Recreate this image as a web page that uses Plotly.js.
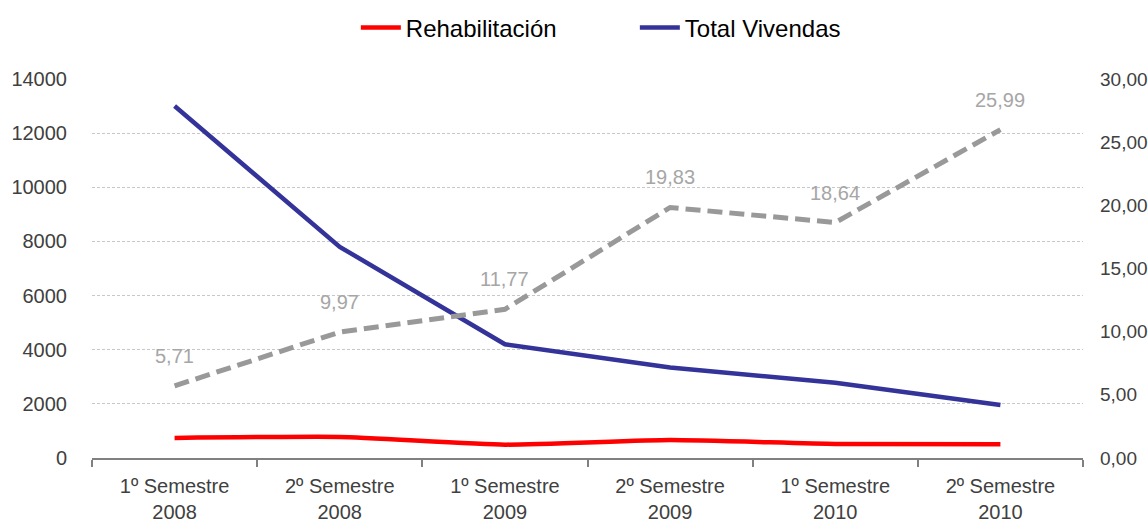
<!DOCTYPE html>
<html>
<head>
<meta charset="utf-8">
<script src="https://cdn.plot.ly/plotly-3.0.1.min.js"></script>
<style>html,body{margin:0;padding:0;background:#fff;}#chart{width:1148px;height:525px;}</style>
</head>
<body>
<div id="chart"></div>
<script>
const categories = ["1º Semestre<br>2008", "2º Semestre<br>2008", "1º Semestre<br>2009", "2º Semestre<br>2009", "1º Semestre<br>2010", "2º Semestre<br>2010"];
const rehabilitacion = [742, 778, 494, 662, 518, 509];
const totalVivendas = [13000, 7800, 4200, 3340, 2780, 1960];
const porcentaxe = [5.71, 9.97, 11.77, 19.83, 18.64, 25.99];
const porcentaxeLabels = ["5,71", "9,97", "11,77", "19,83", "18,64", "25,99"];
const leftTicks = [0, 2000, 4000, 6000, 8000, 10000, 12000, 14000];
const rightTicks = [0, 5, 10, 15, 20, 25, 30];
const rightTickLabels = ["0,00", "5,00", "10,00", "15,00", "20,00", "25,00", "30,00"];

const fontFam = "'Liberation Sans', Arial, sans-serif";

const traces = [
  {x: categories, y: rehabilitacion, name: "Rehabilitación", type: "scatter", mode: "lines",
   line: {color: "#ff0000", width: 4.5, shape: "spline", smoothing: 0.5}},
  {x: categories, y: totalVivendas, name: "Total Vivendas", type: "scatter", mode: "lines",
   line: {color: "#333399", width: 4.5}},
  {x: categories, y: porcentaxe, name: "%", type: "scatter", mode: "lines", yaxis: "y2",
   showlegend: false, line: {color: "#999999", width: 5, dash: "15px,7px"}}
];

const annotations = categories.map((c, i) => ({
  x: c, y: porcentaxe[i], xref: "x", yref: "y2", text: porcentaxeLabels[i],
  showarrow: false, yshift: 30, font: {family: fontFam, size: 20, color: "#a6a6a6"}
}));

const layout = {
  width: 1148, height: 525,
  margin: {l: 92, r: 65, t: 79, b: 67, autoexpand: false},
  paper_bgcolor: "#ffffff", plot_bgcolor: "#ffffff",
  font: {family: fontFam, size: 20, color: "#404040"},
  showlegend: true,
  legend: {orientation: "h", x: 0.553, xref: "container", xanchor: "center",
           y: 0.947, yref: "container", yanchor: "middle",
           font: {family: fontFam, size: 24, color: "#000000"}, itemwidth: 40,
           entrywidth: 224, entrywidthmode: "pixels"},
  xaxis: {type: "category", range: [-0.5, 5.5], showline: true, linecolor: "#808080", linewidth: 2,
          ticks: "outside", tickson: "boundaries", ticklen: 7, tickcolor: "#808080", tickwidth: 2,
          showgrid: false, zeroline: false, ticklabelstandoff: 9,
          tickfont: {family: fontFam, size: 20, color: "#404040"}},
  yaxis: {range: [0, 14000], tickvals: leftTicks, ticktext: leftTicks.map(String),
          showline: false, zeroline: false, showgrid: true, gridcolor: "#c8c8c8", gridwidth: 1, griddash: "3px,2px",
          ticks: "", ticklabelstandoff: 24, tickfont: {family: fontFam, size: 20, color: "#404040"}},
  yaxis2: {overlaying: "y", side: "right", range: [0, 30], tickvals: rightTicks, ticktext: rightTickLabels,
           showgrid: false, zeroline: false, showline: false, ticks: "", ticklabelstandoff: 16,
           tickfont: {family: fontFam, size: 19, color: "#404040"}},
  annotations: annotations
};

Plotly.newPlot("chart", traces, layout, {displayModeBar: false, staticPlot: true});
</script>
</body>
</html>
